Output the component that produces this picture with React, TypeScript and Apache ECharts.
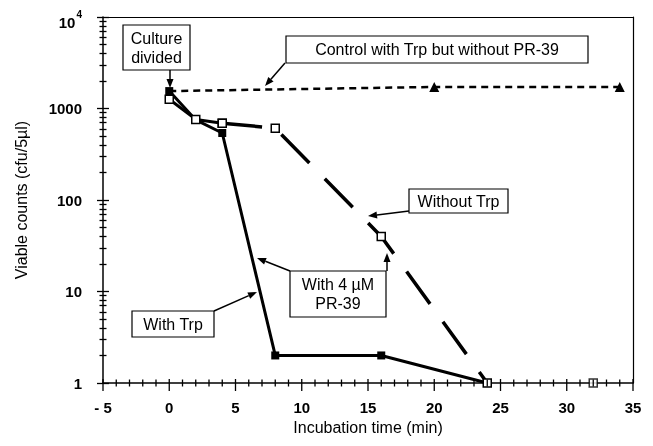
import React, { useEffect, useRef } from 'react';
import * as echarts from 'echarts';

// ---- data ----
const withTrpTime = [0, 2, 4, 8, 16, 24];
const withTrpCounts = [1550, 750, 540, 2, 2, 1];

const withoutTrpTime = [0, 2, 4, 8, 16, 24];
const withoutTrpCounts = [1260, 760, 690, 610, 40, 1];
const withoutTrpLateTime = [32];
const withoutTrpLateCounts = [1];

const controlTime = [0, 20, 34];
const controlCounts = [1550, 1720, 1720];

const xMin = -5;
const xMax = 35;
const xMajorTicks = [-5, 0, 5, 10, 15, 20, 25, 30, 35];
const xMinorTicks = [
  -4, -3, -2, -1, 1, 2, 3, 4, 6, 7, 8, 9, 11, 12, 13, 14, 16, 17, 18, 19,
  21, 22, 23, 24, 26, 27, 28, 29, 31, 32, 33, 34,
];
const yMajorTicks = [1, 10, 100, 1000, 10000];
const yMinorMultipliers = [2, 3, 4, 5, 6, 7, 8, 9];
const yDecades = [1, 10, 100, 1000];

const FONT = '"Liberation Sans", Arial, Helvetica, sans-serif';

function arrow(x1: number, y1: number, x2: number, y2: number) {
  const ang = Math.atan2(y2 - y1, x2 - x1);
  const L = 9;
  const W = 3.5;
  const bx = x2 - L * Math.cos(ang);
  const by = y2 - L * Math.sin(ang);
  const px = -Math.sin(ang) * W;
  const py = Math.cos(ang) * W;
  return [
    {
      type: 'line',
      z: 100,
      shape: { x1, y1, x2: bx, y2: by },
      style: { stroke: '#000', lineWidth: 1.5 },
    },
    {
      type: 'polygon',
      z: 100,
      shape: { points: [[x2, y2], [bx + px, by + py], [bx - px, by - py]] },
      style: { fill: '#000' },
    },
  ];
}

function box(x: number, y: number, w: number, h: number, text: string) {
  return [
    {
      type: 'rect',
      z: 100,
      shape: { x, y, width: w, height: h },
      style: { fill: '#fff', stroke: '#000', lineWidth: 1.2 },
    },
    {
      type: 'text',
      z: 101,
      style: {
        text,
        x: x + w / 2,
        y: y + h / 2,
        textAlign: 'center',
        textVerticalAlign: 'middle',
        fontSize: 16,
        fontFamily: FONT,
        lineHeight: 19,
        fill: '#000',
      },
    },
  ];
}

export default function App() {
  const ref = useRef<HTMLDivElement>(null);

  useEffect(() => {
    if (!ref.current) return;
    const chart = echarts.init(ref.current, null, { renderer: 'svg' });

    const withTrp = withTrpTime.map((t, i) => [t, withTrpCounts[i]]);
    const withoutAll = withoutTrpTime.map((t, i) => [t, withoutTrpCounts[i]]);
    const withoutSolid = withoutAll.slice(0, 3);
    const withoutDashed = withoutAll.slice(2);
    const withoutLate = withoutTrpLateTime.map((t, i) => [t, withoutTrpLateCounts[i]]);
    const control = controlTime.map((t, i) =>
      i === 0 ? { value: [t, controlCounts[i]], symbol: 'none' } : [t, controlCounts[i]]
    );

    const yMinorTicks = yDecades.flatMap((d) => yMinorMultipliers.map((m) => m * d));

    const xTickData = [
      ...xMajorTicks.map((v) => [v, 1, 1]),
      ...xMinorTicks.map((v) => [v, 1, 0]),
    ];

    const openSquare = {
      color: '#fff',
      borderColor: '#000',
      borderWidth: 1.5,
    };

    const tickLine = { color: '#000', width: 1.3 };

    const extraYAxis = (values: number[], inside: boolean, length: number) => ({
      type: 'log',
      logBase: 10,
      min: 1,
      max: 10000,
      position: 'left',
      axisLine: { show: false, onZero: false },
      axisLabel: { show: false },
      splitLine: { show: false },
      axisTick: { show: true, inside, length, customValues: values, lineStyle: tickLine },
    });

    const option: any = {
      animation: false,
      textStyle: { fontFamily: FONT, color: '#000' },
      grid: { left: 103, right: 20, top: 17, bottom: 63 },
      xAxis: [
        {
          type: 'value',
          min: xMin,
          max: xMax,
          interval: 5,
          position: 'bottom',
          name: 'Incubation time (min)',
          nameLocation: 'middle',
          nameGap: 36,
          nameTextStyle: { fontSize: 16, fontFamily: FONT, color: '#000' },
          axisLine: { show: true, onZero: false, lineStyle: { color: '#000', width: 1.5 } },
          axisTick: { show: false },
          splitLine: { show: false },
          axisLabel: {
            margin: 17,
            fontSize: 15,
            fontWeight: 'bold',
            fontFamily: FONT,
            color: '#000',
            formatter: (v: number) => (v < 0 ? '- ' + Math.abs(v) : String(v)),
          },
        },
        {
          type: 'value',
          min: xMin,
          max: xMax,
          position: 'top',
          axisLine: { show: true, onZero: false, lineStyle: { color: '#000', width: 1.2 } },
          axisTick: { show: false },
          axisLabel: { show: false },
          splitLine: { show: false },
        },
      ],
      yAxis: [
        {
          type: 'log',
          logBase: 10,
          min: 1,
          max: 10000,
          splitNumber: 4,
          position: 'left',
          name: 'Viable counts (cfu/5µl)',
          nameLocation: 'middle',
          nameGap: 74,
          nameTextStyle: { fontSize: 16, fontFamily: FONT, color: '#000' },
          axisLine: { show: true, onZero: false, lineStyle: { color: '#000', width: 1.5 } },
          axisTick: { show: true, inside: false, length: 6, customValues: yMajorTicks, lineStyle: tickLine },
          splitLine: { show: false },
          axisLabel: {
            margin: 21,
            fontSize: 15,
            fontWeight: 'bold',
            fontFamily: FONT,
            color: '#000',
            customValues: yMajorTicks,
            formatter: (v: number) => {
              const r = Math.round(v);
              return r === 10000 ? '{a|10}{s|4}' : String(r);
            },
            rich: {
              a: { fontSize: 15, fontWeight: 'bold', fontFamily: FONT, color: '#000', padding: [10, 0, 0, 0] },
              s: { fontSize: 10, fontWeight: 'bold', fontFamily: FONT, color: '#000', padding: [0, 0, 6, 1] },
            },
          },
        },
        extraYAxis(yMajorTicks, true, 6),
        extraYAxis(yMinorTicks, false, 3.5),
        extraYAxis(yMinorTicks, true, 3.5),
        {
          type: 'log',
          logBase: 10,
          min: 1,
          max: 10000,
          position: 'right',
          axisLine: { show: true, onZero: false, lineStyle: { color: '#000', width: 1.2 } },
          axisTick: { show: false },
          axisLabel: { show: false },
          splitLine: { show: false },
        },
      ],
      series: [
        {
          name: 'Control with Trp but without PR-39',
          type: 'line',
          data: control,
          symbol: 'triangle',
          symbolSize: 10,
          itemStyle: { color: '#000' },
          lineStyle: { color: '#000', width: 2.5, type: [7, 5] },
          z: 3,
        },
        {
          name: 'With Trp',
          type: 'line',
          data: withTrp,
          symbol: 'rect',
          symbolSize: 8,
          itemStyle: { color: '#000' },
          lineStyle: { color: '#000', width: 3 },
          z: 4,
        },
        {
          name: 'Without Trp',
          type: 'line',
          data: withoutSolid,
          symbol: 'rect',
          symbolSize: 8,
          itemStyle: openSquare,
          lineStyle: { color: '#000', width: 3 },
          z: 5,
        },
        {
          name: 'Without Trp (dashed)',
          type: 'line',
          data: withoutDashed,
          symbol: 'rect',
          symbolSize: 8,
          itemStyle: openSquare,
          lineStyle: { color: '#000', width: 3.5, type: [40, 22] },
          z: 5,
        },
        {
          name: 'Without Trp (32 min)',
          type: 'scatter',
          data: withoutLate,
          symbol: 'rect',
          symbolSize: 8,
          itemStyle: openSquare,
          z: 5,
        },
        {
          name: 'x ticks',
          type: 'custom',
          silent: true,
          clip: false,
          z: 8,
          data: xTickData,
          renderItem: (params: any, api: any) => {
            const p = api.coord([api.value(0), api.value(1)]);
            const major = api.value(2) === 1;
            return {
              type: 'line',
              shape: { x1: p[0], y1: p[1] - (major ? 4 : 3.5), x2: p[0], y2: p[1] + (major ? 8 : 3.5) },
              style: { stroke: '#000', lineWidth: 1.3 },
            };
          },
        },
      ],
      graphic: [
        ...box(123, 25, 67, 45, 'Culture\ndivided'),
        ...arrow(170, 70, 170, 88),
        ...box(286, 36, 302, 27, 'Control with Trp but without PR-39'),
        ...arrow(285, 63, 265, 86),
        ...box(409, 189, 99, 24, 'Without Trp'),
        ...arrow(409, 211, 368, 216),
        ...box(290, 271, 96, 46, 'With 4 µM\nPR-39'),
        ...arrow(290, 271, 257, 258),
        ...arrow(387, 271, 387, 253),
        ...box(132, 311, 82, 26, 'With Trp'),
        ...arrow(214, 311, 257, 292),
      ],
    };

    chart.setOption(option);
    return () => chart.dispose();
  }, []);

  return (
    <div
      ref={ref}
      style={{ position: 'fixed', left: 0, top: 0, width: 653, height: 446 }}
    />
  );
}
